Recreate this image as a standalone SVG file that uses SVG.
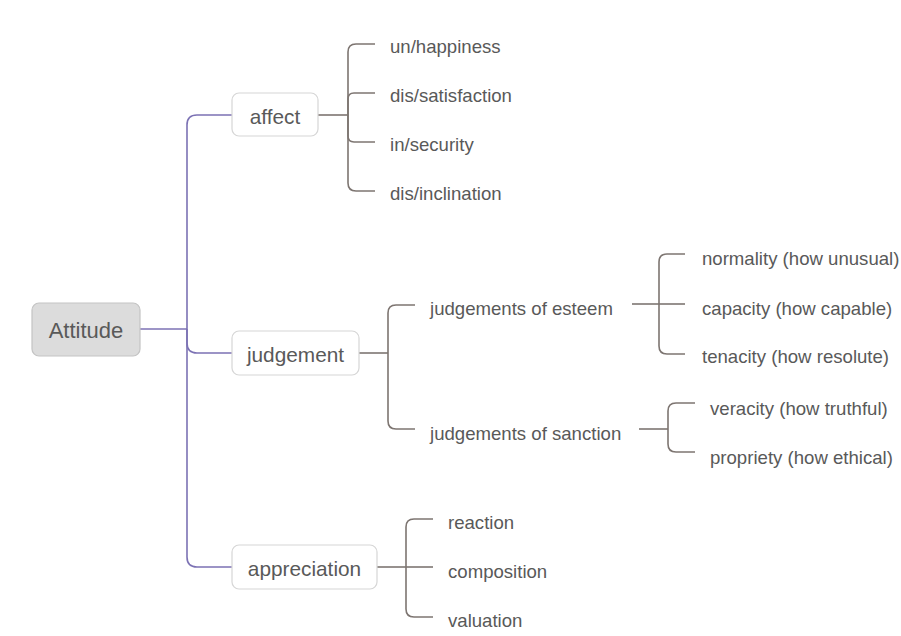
<svg xmlns="http://www.w3.org/2000/svg" width="901" height="636" viewBox="0 0 901 636">
<style>
.t{font-family:"Liberation Sans",Arial,sans-serif;fill:#595959;dominant-baseline:central}
.leaf{font-size:18.6px}
.node{font-size:20.8px;text-anchor:middle}
.box{fill:#ffffff;stroke:#d6d6d6;stroke-width:1.2}
.root{fill:#dcdcdc;stroke:#c4c4c4;stroke-width:1.2}
.tr{fill:none;stroke:#7c72b4;stroke-width:1.6}
.br{fill:none;stroke:#7d7571;stroke-width:1.6}
</style>
<rect width="901" height="636" fill="#ffffff"/>
<g id="connectors">
<path class="tr" d="M140,329 H187"/>
<path class="tr" d="M187,329 V125 Q187,115 197,115 H232"/>
<path class="tr" d="M187,329 V343 Q187,353 197,353 H232"/>
<path class="tr" d="M187,329 V557 Q187,567 197,567 H232"/>
<path class="br" d="M318,115 H348"/>
<path class="br" d="M348,115 V52 Q348,44 356,44 H375"/>
<path class="br" d="M348,115 V99 Q348,93 354,93 H375"/>
<path class="br" d="M348,115 V136 Q348,142 354,142 H375"/>
<path class="br" d="M348,115 V183 Q348,191 356,191 H375"/>
<path class="br" d="M359,353 H388"/>
<path class="br" d="M388,353 V313 Q388,305 396,305 H415"/>
<path class="br" d="M388,353 V421 Q388,429 396,429 H415"/>
<path class="br" d="M632,304 H659"/>
<path class="br" d="M659,304 V262 Q659,254 667,254 H685"/>
<path class="br" d="M659,304 H685"/>
<path class="br" d="M659,304 V346 Q659,354 667,354 H685"/>
<path class="br" d="M639,429 H668"/>
<path class="br" d="M668,429 V411 Q668,403 676,403 H695"/>
<path class="br" d="M668,429 V444 Q668,452 676,452 H695"/>
<path class="br" d="M377,567 H406"/>
<path class="br" d="M406,567 V527 Q406,519 414,519 H433"/>
<path class="br" d="M406,567 H433"/>
<path class="br" d="M406,567 V609 Q406,617 414,617 H433"/>
</g>
<g id="attitude"><rect class="root" x="32" y="303" width="108" height="53" rx="7"/><text class="t node" x="86" y="330" style="font-size:22px">Attitude</text></g>
<g id="affect"><rect class="box" x="232" y="93" width="86" height="43" rx="7"/><text class="t node" x="275" y="116">affect</text></g>
<g id="judgement"><rect class="box" x="232" y="331" width="127" height="44" rx="7"/><text class="t node" x="295.5" y="354">judgement</text></g>
<g id="appreciation"><rect class="box" x="232" y="545" width="145" height="44" rx="7"/><text class="t node" x="304.5" y="568">appreciation</text></g>
<g id="unhappiness"><text class="t leaf" x="390" y="46">un/happiness</text></g>
<g id="dissatisfaction"><text class="t leaf" x="390" y="95">dis/satisfaction</text></g>
<g id="insecurity"><text class="t leaf" x="390" y="144">in/security</text></g>
<g id="disinclination"><text class="t leaf" x="390" y="193">dis/inclination</text></g>
<g id="esteem"><text class="t leaf" x="430" y="308">judgements of esteem</text></g>
<g id="sanction"><text class="t leaf" x="430" y="433">judgements of sanction</text></g>
<g id="normality"><text class="t leaf" x="702" y="258">normality (how unusual)</text></g>
<g id="capacity"><text class="t leaf" x="702" y="308">capacity (how capable)</text></g>
<g id="tenacity"><text class="t leaf" x="702" y="356">tenacity (how resolute)</text></g>
<g id="veracity"><text class="t leaf" x="710" y="408">veracity (how truthful)</text></g>
<g id="propriety"><text class="t leaf" x="710" y="457">propriety (how ethical)</text></g>
<g id="reaction"><text class="t leaf" x="448" y="522">reaction</text></g>
<g id="composition"><text class="t leaf" x="448" y="571">composition</text></g>
<g id="valuation"><text class="t leaf" x="448" y="620">valuation</text></g>
</svg>
